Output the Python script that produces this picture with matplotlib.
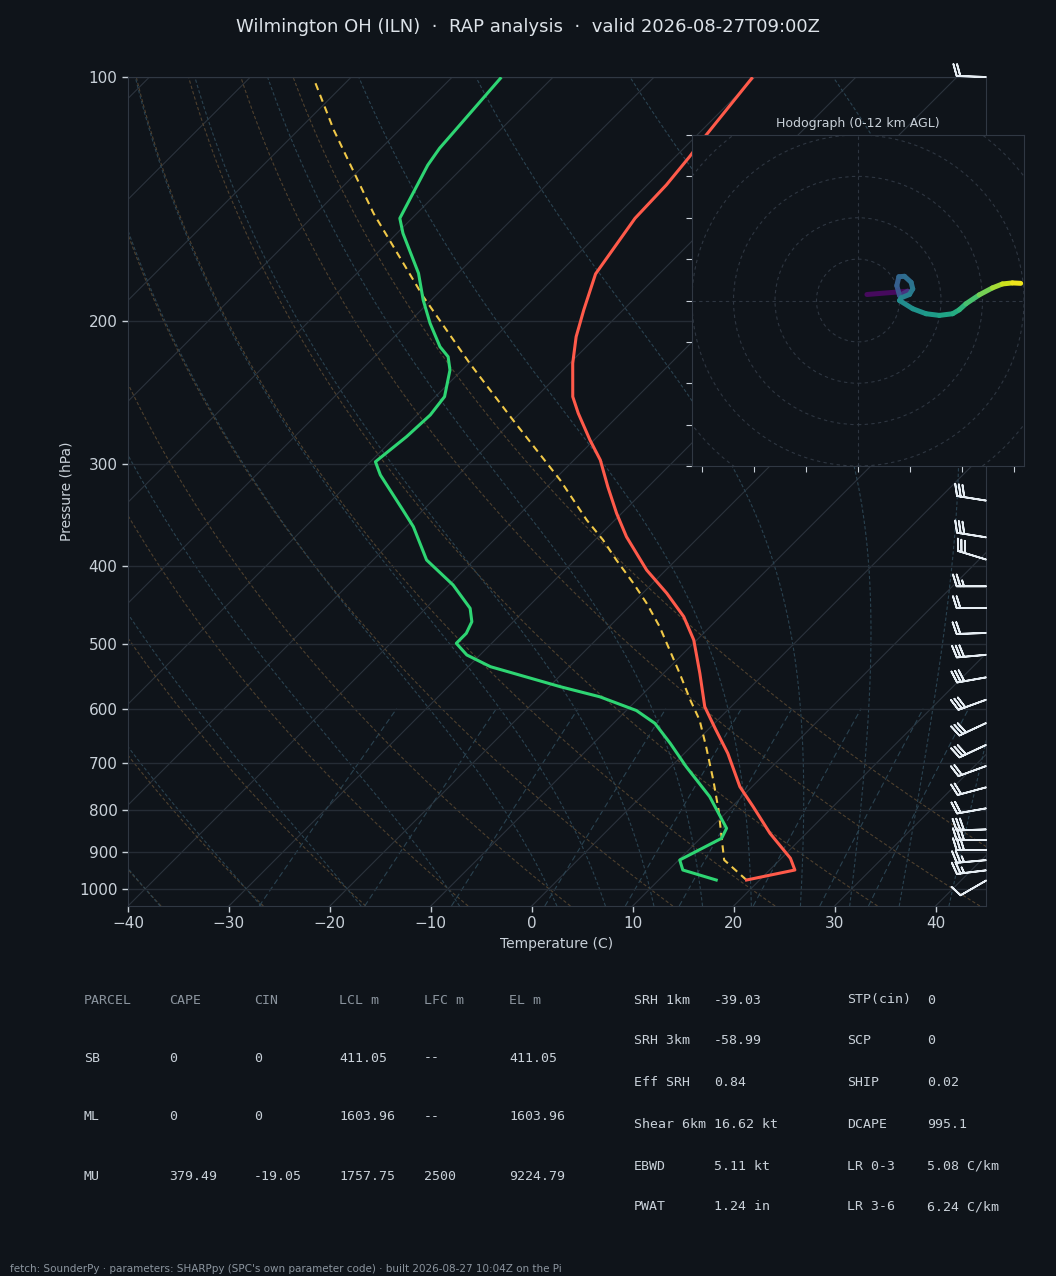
import numpy as np
import matplotlib
matplotlib.use("Agg")
import matplotlib.pyplot as plt
import matplotlib.transforms as mtransforms
from matplotlib.collections import LineCollection
from matplotlib.patches import Circle
from matplotlib.ticker import NullLocator, FixedLocator

# ---------------- data ----------------
TITLE = "Wilmington OH (ILN)  \u00b7  RAP analysis  \u00b7  valid 2026-08-27T09:00Z"
FOOTER = ("fetch: SounderPy \u00b7 parameters: SHARPpy (SPC's own parameter code) "
          "\u00b7 built 2026-08-27 10:04Z on the Pi")

# temperature profile (hPa, degC)
T_P = [975.4, 948.1, 917.1, 854.4, 792.3, 748.6, 681.0, 634.8, 596.7, 542.7, 493.8,
       462.2, 432.5, 404.9, 368.4, 344.7, 319.7, 296.3, 280.0, 259.6, 247.6, 225.3,
       208.9, 193.6, 174.8, 149.3, 135.8, 125.4, 117.9, 100.4]
T_C = [18.7, 22.5, 20.9, 16.4, 12.1, 8.8, 4.3, 0.6, -2.6, -6.4, -10.3,
       -13.6, -17.6, -21.9, -27.2, -30.5, -34.0, -37.4, -40.4, -44.2, -46.4, -49.7,
       -52.0, -53.9, -56.3, -57.9, -58.1, -58.6, -59.1, -60.2]

# dewpoint profile (hPa, degC)
TD_P = [975.4, 948.1, 921.5, 866.5, 842.3, 770.1, 707.3, 661.9, 625.4, 603.1, 580.0,
        563.7, 532.6, 515.2, 498.4, 484.5, 468.8, 451.3, 422.4, 393.5, 358.1, 341.5,
        309.2, 297.8, 277.4, 260.8, 247.6, 229.6, 221.1, 214.9, 201.1, 188.2, 174.5,
        155.8, 149.3, 128.4, 122.4, 100.4]
TD_C = [15.7, 11.4, 10.1, 12.1, 11.6, 6.8, 1.5, -2.4, -5.9, -9.0, -14.0,
        -18.9, -27.8, -31.3, -33.5, -33.5, -34.1, -35.6, -39.6, -44.7, -49.3, -52.0,
        -57.7, -59.5, -58.9, -58.7, -59.1, -61.2, -62.7, -64.5, -67.8, -70.8, -73.9,
        -79.4, -81.2, -83.7, -84.2, -85.1]

# surface parcel trace (hPa, degC)
PARCEL_P = [975.4, 921.5, 870.8, 799.8, 734.5, 668.4, 619.6, 585.4, 542.7, 508.0,
            475.5, 445.0, 420.4, 393.5, 371.8, 351.3, 313.6, 264.6, 225.3, 186.5,
            147.2, 116.2, 100.4]
PARCEL_C = [18.7, 14.5, 12.3, 9.0, 5.5, 1.5, -1.8, -4.7, -8.4, -11.7,
            -15.0, -18.6, -21.9, -25.9, -29.2, -32.8, -39.4, -50.0, -59.9, -71.1,
            -84.3, -96.5, -103.6]

# wind barbs (hPa, direction deg, speed kt)
BARB_P = [100, 332.5, 369, 393, 424, 451, 484, 515, 549, 585, 625, 665, 706, 750,
          796, 845, 871, 896, 922, 949, 977]
BARB_DIR = [272, 279, 279, 287, 270, 270, 268, 265, 260, 250, 245, 245, 250, 255,
            260, 268, 270, 270, 265, 263, 240]
BARB_SPD = [20, 30, 30, 30, 25, 20, 20, 30, 30, 30, 30, 30, 20, 20,
            20, 30, 30, 30, 25, 25, 10]

# hodograph (kt) and height (km AGL)
HODO_U = [4.3, 24.0, 20.0, 18.7, 19.7, 22.4, 25.6, 26.4, 24.8, 20.8, 20.0, 26.4,
          32.8, 39.2, 45.6, 48.8, 52.0, 58.4, 64.8, 69.6, 74.4, 78.4]
HODO_V = [2.9, 4.5, 2.4, 7.2, 11.5, 11.7, 8.8, 5.6, 2.9, 1.3, 0.0, -4.0,
          -6.4, -7.2, -6.4, -4.5, -1.6, 2.7, 6.1, 8.0, 8.5, 8.3]
HODO_Z = [0.0, 0.6, 3.0, 3.4, 3.8, 4.1, 4.4, 4.7, 5.0, 5.3, 5.6, 6.0,
          6.4, 6.8, 7.2, 7.6, 8.0, 9.0, 10.0, 10.8, 11.4, 12.0]

# parameter tables
PARCEL_HEAD = ["PARCEL", "CAPE", "CIN", "LCL m", "LFC m", "EL m"]
PARCEL_ROWS = [["SB", "0", "0", "411.05", "--", "411.05"],
               ["ML", "0", "0", "1603.96", "--", "1603.96"],
               ["MU", "379.49", "-19.05", "1757.75", "2500", "9224.79"]]
IDX_LEFT = [("SRH 1km", "-39.03"), ("SRH 3km", "-58.99"), ("Eff SRH", "0.84"),
            ("Shear 6km", "16.62 kt"), ("EBWD", "5.11 kt"), ("PWAT", "1.24 in")]
IDX_RIGHT = [("STP(cin)", "0"), ("SCP", "0"), ("SHIP", "0.02"),
             ("DCAPE", "995.1"), ("LR 0-3", "5.08 C/km"), ("LR 3-6", "6.24 C/km")]

Y_TICKS = [100, 200, 300, 400, 500, 600, 700, 800, 900, 1000]
X_TICKS = [-40, -30, -20, -10, 0, 10, 20, 30, 40]

# ---------------- style ----------------
BG = "#0f141a"
GRID = "#252c35"
SPINE = "#303843"
TEXT = "#c9d1d9"
MUTED = "#8b949e"
RED = "#ff5a4a"
GREEN = "#2ed573"
YELLOW = "#f0c848"

W_PX, H_PX = 1056, 1276
fig = plt.figure(figsize=(W_PX / 100, H_PX / 100), dpi=100, facecolor=BG)


def fx(x):
    return x / W_PX


def fy(y):
    return 1 - y / H_PX


ax_l, ax_r, ax_t, ax_b = 128, 986, 77, 906
ax = fig.add_axes([fx(ax_l), fy(ax_b), (ax_r - ax_l) / W_PX, (ax_b - ax_t) / H_PX])
ax.set_facecolor(BG)
ax.set_yscale("log")
ax.set_ylim(1050, 100)
ax.set_xlim(-40, 45)

# skew (45 deg in pixel space) applied in axes coordinates
k = (ax_b - ax_t) / (ax_r - ax_l)
skew = mtransforms.Affine2D(np.array([[1.0, k, 0.0], [0.0, 1.0, 0.0], [0.0, 0.0, 1.0]]))
skew_trans = ax.transScale + ax.transLimits + skew + ax.transAxes

# ---- background lines ----
p_bg = np.geomspace(1050, 100, 120)
for t in np.arange(-130, 50, 10):
    ax.plot([t, t], [1050, 100], transform=skew_trans, color="#2b333d", lw=0.8, zorder=1)

for t0 in np.arange(-40, 51, 10):
    tt = (t0 + 273.15) * (p_bg / 1000.0) ** 0.2857 - 273.15
    ax.plot(tt, p_bg, transform=skew_trans, color="#4e402e", lw=0.8, ls=(0, (3, 2)),
            zorder=1)


def es(T):
    return 6.112 * np.exp(17.67 * (T - 273.15) / (T - 29.65))


def dtdp(p, T):
    Rd, Cp, Lv, eps = 287.04, 1005.7, 2.501e6, 0.622
    e = es(T)
    rs = eps * e / (p - e)
    return (Rd * T + Lv * rs) / (Cp + Lv * Lv * rs * eps / (Rd * T * T)) / p


def integrate(t0K, plevels):
    out = [t0K]
    T = t0K.copy()
    for i in range(1, len(plevels)):
        p0, p1 = plevels[i - 1], plevels[i]
        h = p1 - p0
        k1 = dtdp(p0, T)
        k2 = dtdp(p0 + h / 2, T + h / 2 * k1)
        k3 = dtdp(p0 + h / 2, T + h / 2 * k2)
        k4 = dtdp(p1, T + h * k3)
        T = T + h / 6 * (k1 + 2 * k2 + 2 * k3 + k4)
        out.append(T)
    return np.array(out)


moist_t0 = np.concatenate((np.arange(-40, 0, 10), np.arange(0, 46, 5))).astype(float) + 273.15
p_up = np.linspace(1000, 100, 361)
p_dn = np.linspace(1000, 1050, 11)
t_up = integrate(moist_t0, p_up)
t_dn = integrate(moist_t0, p_dn)
p_moist = np.concatenate((p_dn[::-1], p_up[1:]))
t_moist = np.concatenate((t_dn[::-1], t_up[1:])) - 273.15
for j in range(len(moist_t0)):
    ax.plot(t_moist[:, j], p_moist, transform=skew_trans, color="#2a4250", lw=0.8,
            ls=(0, (3, 2)), zorder=1)

p_mix = np.linspace(1050, 600, 40)
for w in [0.0004, 0.001, 0.002, 0.004, 0.007, 0.01, 0.016, 0.024, 0.032]:
    e = w * p_mix / (0.622 + w)
    lnr = np.log(e / 6.112)
    td = 243.5 * lnr / (17.67 - lnr)
    ax.plot(td, p_mix, transform=skew_trans, color="#2a4250", lw=0.8,
            ls=(0, (5, 3)), zorder=1)

# ---- profiles ----
ax.plot(PARCEL_C, PARCEL_P, transform=skew_trans, color=YELLOW, lw=1.5,
        ls=(0, (3.5, 2.5)), zorder=4)
ax.plot(TD_C, TD_P, transform=skew_trans, color=GREEN, lw=2.2, zorder=5)
ax.plot(T_C, T_P, transform=skew_trans, color=RED, lw=2.2, zorder=5)

# ---- wind barbs ----
d = np.deg2rad(np.array(BARB_DIR, dtype=float))
s = np.array(BARB_SPD, dtype=float)
bu = -s * np.sin(d)
bv = -s * np.cos(d)
ax.barbs(np.ones(len(BARB_P)), BARB_P, bu, bv, transform=ax.get_yaxis_transform(),
         clip_on=False, length=6.5, color="#e6edf3", linewidth=1.3, pivot="tip",
         zorder=6)

# ---- axes style ----
ax.yaxis.set_major_locator(FixedLocator(Y_TICKS))
ax.yaxis.set_minor_locator(NullLocator())
ax.set_yticklabels([str(v) for v in Y_TICKS])
ax.xaxis.set_major_locator(FixedLocator(X_TICKS))
ax.grid(True, axis="y", color=GRID, lw=1.0, zorder=0)
for sp in ax.spines.values():
    sp.set_color(SPINE)
ax.tick_params(colors=TEXT, labelsize=11, length=4, width=1)
ax.set_xlabel("Temperature (C)", color=TEXT, fontsize=10)
ax.set_ylabel("Pressure (hPa)", color=TEXT, fontsize=10)

# ---- hodograph inset ----
hx0, hx1, hy0, hy1 = 692, 1024, 135, 466
hax = fig.add_axes([fx(hx0), fy(hy1), (hx1 - hx0) / W_PX, (hy1 - hy0) / H_PX])
hax.set_facecolor(BG)
hax.set_xlim(-80, 80)
hax.set_ylim(-80, 80)
for r in range(20, 121, 20):
    hax.add_patch(Circle((0, 0), r, fill=False, ls=(0, (3, 3)), lw=0.8,
                         color="#2e3641", zorder=1))
hax.axhline(0, color="#2e3641", ls=(0, (3, 3)), lw=0.8, zorder=1)
hax.axvline(0, color="#2e3641", ls=(0, (3, 3)), lw=0.8, zorder=1)
pts = np.column_stack([HODO_U, HODO_V])
segs = np.stack([pts[:-1], pts[1:]], axis=1)
zc = 0.5 * (np.array(HODO_Z[:-1]) + np.array(HODO_Z[1:]))
lc = LineCollection(segs, cmap="viridis", linewidths=3.6, capstyle="round", zorder=3)
lc.set_array(zc)
lc.set_clim(0, 12)
hax.add_collection(lc)
hax.xaxis.set_major_locator(FixedLocator([-75, -50, -25, 0, 25, 50, 75]))
hax.yaxis.set_major_locator(FixedLocator(list(range(-80, 81, 20))))
hax.tick_params(colors=TEXT, length=4, labelbottom=False, labelleft=False)
for sp in hax.spines.values():
    sp.set_color(SPINE)
hax.set_title("Hodograph (0-12 km AGL)", color=TEXT, fontsize=9, pad=6)

# ---- title / footer ----
fig.text(0.5, fy(27), TITLE, ha="center", va="center", fontsize=13, color="#dde3e9")
fig.text(fx(10), fy(1269), FOOTER, ha="left", va="center", fontsize=7.5, color=MUTED)

# ---- parcel table ----
mono = "DejaVu Sans Mono"
col_x = [84, 169, 254, 339, 424, 509]
row_y = [1000, 1058, 1117, 1176]
for cx, h in zip(col_x, PARCEL_HEAD):
    fig.text(fx(cx), fy(row_y[0]), h, family=mono, fontsize=9.5, color=MUTED,
             ha="left", va="center")
for ry, row in zip(row_y[1:], PARCEL_ROWS):
    for cx, v in zip(col_x, row):
        fig.text(fx(cx), fy(ry), v, family=mono, fontsize=9.5, color=TEXT,
                 ha="left", va="center")

# ---- index tables ----
idx_y = [1000, 1041, 1083, 1124, 1166, 1207]
for ry, (lab, val) in zip(idx_y, IDX_LEFT):
    fig.text(fx(634), fy(ry), lab, family=mono, fontsize=9.5, color=TEXT, va="center")
    fig.text(fx(714), fy(ry), val, family=mono, fontsize=9.5, color=TEXT, va="center")
for ry, (lab, val) in zip(idx_y, IDX_RIGHT):
    fig.text(fx(847), fy(ry), lab, family=mono, fontsize=9.5, color=TEXT, va="center")
    fig.text(fx(927), fy(ry), val, family=mono, fontsize=9.5, color=TEXT, va="center")

fig.savefig("out.png", dpi=100, facecolor=BG)
